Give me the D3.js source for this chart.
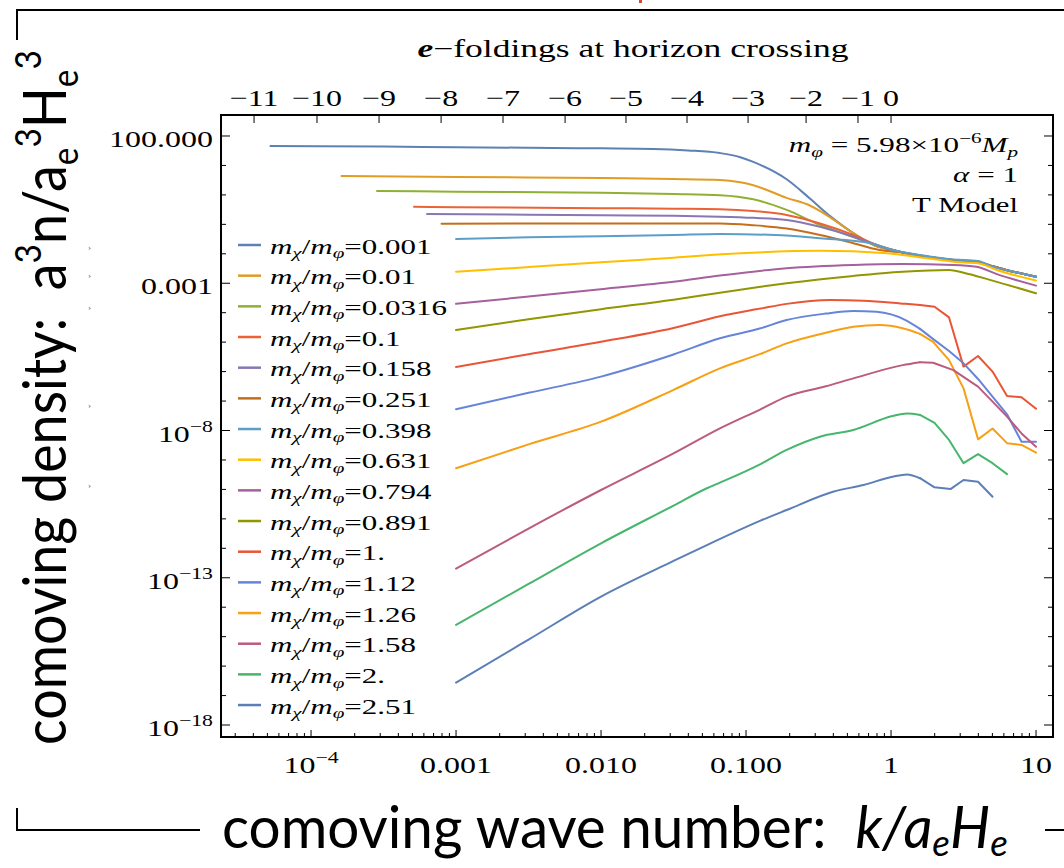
<!DOCTYPE html>
<html><head><meta charset="utf-8">
<script src="https://cdn.jsdelivr.net/npm/d3@7"></script>
<style>body{margin:0;background:#fff}svg{display:block}text{white-space:pre}</style>
</head><body>
<svg id="c" width="1064" height="868"></svg>
<script>
// ---------- DATA (log10 k, log10 n) ----------
const massLabels = ["0.001","0.01","0.0316","0.1","0.158","0.251","0.398","0.631","0.794","0.891","1.","1.12","1.26","1.58","2.","2.51"];

const s_0p001 = [[-4.28,1.66],[-3.5,1.64],[-3,1.62],[-2.5,1.60],[-2,1.58],[-1.64,1.56],[-1.4,1.51],[-1.18,1.42],[-1.04,1.28],[-0.95,1.12],[-0.72,0.53],[-0.56,-0.12],[-0.42,-0.72],[-0.26,-1.30],[-0.12,-1.70],[0.06,-1.93],[0.25,-2.10],[0.43,-2.21],[0.6,-2.28],[0.7,-2.42],[0.8,-2.56],[0.9,-2.67],[1.0,-2.78]];
const s_0p01 = [[-3.79,0.64],[-3,0.61],[-2,0.57],[-1.5,0.54],[-1.18,0.51],[-1.04,0.43],[-0.95,0.33],[-0.72,-0.10],[-0.56,-0.36],[-0.42,-0.76],[-0.26,-1.30],[-0.12,-1.70],[0.06,-1.93],[0.25,-2.10],[0.43,-2.21],[0.6,-2.28],[0.7,-2.42],[0.8,-2.56],[0.9,-2.67],[1.0,-2.78]];
const s_0p0316 = [[-3.545,0.13],[-3,0.11],[-2,0.07],[-1.5,0.03],[-1.18,-0.01],[-0.95,-0.15],[-0.72,-0.51],[-0.49,-1.02],[-0.30,-1.36],[-0.14,-1.64],[0.06,-1.93],[0.25,-2.10],[0.43,-2.21],[0.6,-2.28],[0.7,-2.42],[0.8,-2.56],[0.9,-2.67],[1.0,-2.78]];
const s_0p1 = [[-3.29,-0.40],[-3,-0.42],[-2,-0.45],[-1.5,-0.47],[-1.18,-0.49],[-0.95,-0.55],[-0.72,-0.68],[-0.49,-0.97],[-0.26,-1.36],[-0.10,-1.70],[0.06,-1.93],[0.25,-2.10],[0.43,-2.21],[0.6,-2.28],[0.7,-2.42],[0.8,-2.56],[0.9,-2.67],[1.0,-2.78]];
const s_0p158 = [[-3.2,-0.65],[-2.5,-0.67],[-2,-0.69],[-1.5,-0.71],[-1.18,-0.74],[-0.95,-0.78],[-0.72,-0.85],[-0.49,-1.08],[-0.26,-1.42],[-0.10,-1.70],[0.06,-1.93],[0.25,-2.10],[0.43,-2.21],[0.6,-2.28],[0.7,-2.42],[0.8,-2.56],[0.9,-2.67],[1.0,-2.78]];
const s_0p251 = [[-3.1,-0.98],[-2.5,-0.97],[-2,-0.97],[-1.5,-0.97],[-1.18,-0.97],[-0.95,-1.03],[-0.72,-1.14],[-0.49,-1.36],[-0.26,-1.64],[-0.08,-1.87],[0.06,-1.95],[0.25,-2.10],[0.43,-2.21],[0.6,-2.28],[0.7,-2.42],[0.8,-2.56],[0.9,-2.67],[1.0,-2.78]];
const s_0p398 = [[-3,-1.50],[-2.5,-1.44],[-2,-1.40],[-1.5,-1.36],[-1.18,-1.33],[-0.8,-1.36],[-0.49,-1.47],[-0.14,-1.64],[0.01,-1.87],[0.2,-2.04],[0.43,-2.19],[0.6,-2.24],[0.7,-2.44],[0.8,-2.56],[0.9,-2.67],[1.0,-2.78]];
const s_0p631 = [[-3,-2.61],[-2.5,-2.45],[-2,-2.29],[-1.5,-2.13],[-1.04,-1.98],[-0.49,-1.90],[-0.03,-1.98],[0.25,-2.15],[0.43,-2.27],[0.6,-2.32],[0.73,-2.55],[1.0,-2.91]];
const s_0p794 = [[-3,-3.70],[-2.5,-3.45],[-2,-3.20],[-1.5,-2.95],[-1.18,-2.74],[-0.72,-2.49],[-0.26,-2.38],[0.08,-2.35],[0.43,-2.38],[0.59,-2.44],[0.73,-2.69],[1.0,-3.08]];
const s_0p891 = [[-3,-4.59],[-2.5,-4.22],[-2,-3.88],[-1.5,-3.56],[-1.18,-3.32],[-0.9,-3.12],[-0.72,-3.00],[-0.26,-2.75],[0.08,-2.61],[0.4,-2.55],[0.5,-2.64],[0.7,-2.91],[1.0,-3.34]];
const s_1p0 = [[-3,-5.84],[-2.5,-5.41],[-2,-4.99],[-1.5,-4.52],[-1.18,-4.12],[-0.9,-3.86],[-0.72,-3.70],[-0.42,-3.57],[-0.19,-3.59],[0.1,-3.70],[0.2,-3.74],[0.3,-3.80],[0.4,-4.16],[0.5,-5.83],[0.6,-5.47],[0.7,-6.00],[0.8,-6.83],[0.9,-6.87],[1.0,-7.26]];
const s_1p12 = [[-3,-7.28],[-2.5,-6.72],[-2,-6.17],[-1.5,-5.42],[-1.18,-4.87],[-0.9,-4.53],[-0.72,-4.25],[-0.45,-4.03],[-0.26,-3.94],[-0.1,-3.97],[0.1,-4.25],[0.2,-4.55],[0.3,-4.93],[0.4,-5.30],[0.5,-5.72],[0.6,-6.25],[0.7,-6.85],[0.8,-7.45],[0.9,-8.38],[1.0,-8.38]];
const s_1p26 = [[-3,-9.28],[-2.5,-8.47],[-2,-7.70],[-1.5,-6.62],[-1.18,-5.89],[-0.9,-5.40],[-0.72,-5.04],[-0.45,-4.68],[-0.26,-4.48],[-0.08,-4.42],[0.08,-4.53],[0.2,-4.72],[0.29,-4.99],[0.4,-5.61],[0.5,-6.57],[0.6,-8.30],[0.7,-7.93],[0.8,-8.43],[0.9,-8.49],[1.0,-8.75]];
const s_1p58 = [[-3,-12.69],[-2.5,-11.33],[-2,-10.02],[-1.5,-8.78],[-1.18,-7.93],[-0.9,-7.28],[-0.72,-6.85],[-0.45,-6.50],[-0.26,-6.23],[0.08,-5.78],[0.2,-5.68],[0.29,-5.70],[0.43,-5.95],[0.6,-6.51],[0.8,-7.53],[0.9,-8.10],[1.0,-8.55]];
const s_2p0 = [[-3,-14.60],[-2.5,-13.21],[-2,-11.83],[-1.5,-10.55],[-1.27,-9.96],[-1.18,-9.77],[-0.9,-9.14],[-0.72,-8.66],[-0.49,-8.21],[-0.26,-7.98],[0.01,-7.51],[0.11,-7.42],[0.2,-7.47],[0.3,-7.74],[0.4,-8.32],[0.5,-9.11],[0.6,-8.80],[0.7,-9.11],[0.8,-9.48]];
const s_2p51 = [[-3,-16.56],[-2.5,-15.10],[-2,-13.64],[-1.5,-12.43],[-1.27,-11.89],[-0.9,-11.06],[-0.72,-10.70],[-0.4,-10.08],[-0.19,-9.85],[0.01,-9.57],[0.11,-9.49],[0.2,-9.62],[0.3,-9.93],[0.41,-9.99],[0.5,-9.68],[0.6,-9.74],[0.7,-10.25]];

const seriesData = [s_0p001,s_0p01,s_0p0316,s_0p1,s_0p158,s_0p251,s_0p398,s_0p631,s_0p794,s_0p891,s_1p0,s_1p12,s_1p26,s_1p58,s_2p0,s_2p51];

// top axis: e-foldings at horizon crossing (label, log10 k position)
const efoldLabels = ["−11","−10","−9","−8","−7","−6","−5","−4","−3","−2","−1","0"];
const efoldLogK = [-4.393,-3.959,-3.531,-3.103,-2.676,-2.248,-1.828,-1.407,-0.986,-0.586,-0.228,0.0];

// bottom axis labels
const xLabelExp = [-4,-3,-2,-1,0,1];
const xLabelBase = ["10","0.001","0.010","0.100","1","10"];
const xLabelSup = ["−4","","","","",""];

// left axis labels
const yLabelExp = [2,-3,-8,-13,-18];
const yLabelBase = ["100.000","0.001","10","10","10"];
const yLabelSup = ["","","−8","−13","−18"];

// ---------- STYLE ----------
const palette = ["#5E81B5","#E19C24","#8FB032","#EB6235","#8778B3","#C56E1A","#5D9EC7","#FFBF00","#A5609D","#929600","#E95536","#6685D9","#F89F13","#BC5B80","#47B66D","#5B7FB6"];
const serif = "'Liberation Serif','Times New Roman',serif";
const sans = "Lato,'Open Sans',sans-serif";

const L = 221, R = 1053, T = 115, B = 737;
const svg = d3.select("#c");

const x = d3.scaleLog().domain([Math.pow(10,-4.621), Math.pow(10,1.117)]).range([L, R]);
const y = d3.scaleLog().domain([Math.pow(10,-18.407), Math.pow(10,2.713)]).range([B, T]);

function rich(parent, px, py, anchor, size, family, parts, rot) {
  const outer = parent.append("g").attr("transform", `translate(${px},${py})` + (rot ? ` rotate(${rot})` : ""));
  const inner = outer.append("g");
  const t = inner.append("text").attr("x",0).attr("y",0).attr("text-anchor",anchor)
    .attr("font-family",family).attr("font-size",size).attr("fill","#000");
  let cur = 0;
  parts.forEach(p => {
    const ts = t.append("tspan").text(p.t);
    let target = 0, fs = size;
    if (p.sup) { target = -size*(p.supShift||0.4); fs = size*(p.rel||0.68); }
    if (p.sub) { target = size*(p.subShift||0.22); fs = size*(p.rel||0.68); }
    if (fs !== size) ts.attr("font-size", fs);
    if (target !== cur) { ts.attr("dy", target-cur); cur = target; }
    if (p.it) ts.attr("font-style","italic");
    if (p.b) ts.attr("font-weight","bold");
  });
  return {outer, inner, t};
}
function natW(r){ return r.t.node().getBBox().width; }
function setS(r, s){ r.inner.attr("transform", `scale(${s},1)`); }
function fit(r, w){ const s = w/natW(r); setS(r, s); return s; }

// ---------- outer bracket lines ----------
const br = svg.append("g").attr("stroke","#000").attr("stroke-width",2).attr("fill","none");
br.append("path").attr("d","M17,40 V10 H1064");
br.append("path").attr("d","M17,808 V830 H200");
br.append("path").attr("d","M1045,830 H1064");
svg.append("rect").attr("x",639).attr("y",0).attr("width",3).attr("height",3).attr("fill","#e8412c");

// stray tiny marks at left
[247,275,307,405,485].forEach(v => svg.append("text").attr("x",88).attr("y",v+3).attr("font-size",9)
  .attr("font-family",serif).attr("fill","#555").text("›"));

// ---------- curves ----------
// smooth part drawn with monotone interpolation; the jagged high-k tail of the
// heavy-mass curves (index >= 10) drawn with straight segments, as in the source
const gCurves = svg.append("g");
const SPLIT = 0.2;
function pathFor(d, curve) {
  return d3.line().x(p => x(Math.pow(10,p[0]))).y(p => y(Math.pow(10,p[1]))).curve(curve)(d);
}
seriesData.forEach((d,i) => {
  const g = gCurves.append("g").attr("fill","none").attr("stroke", palette[i])
    .attr("stroke-width", 2).attr("stroke-linejoin","round").attr("stroke-linecap","round");
  if (i < 10) {
    g.append("path").attr("d", pathFor(d, d3.curveMonotoneX));
  } else {
    const a = d.filter(p => p[0] <= SPLIT + 1e-9);
    const b = d.filter(p => p[0] >= SPLIT - 0.1 - 1e-9).filter((p,j,arr) => true);
    const join = a[a.length-1];
    const tail = [join].concat(d.filter(p => p[0] > join[0]));
    g.append("path").attr("d", pathFor(a, d3.curveMonotoneX));
    g.append("path").attr("d", pathFor(tail, d3.curveLinear));
  }
});

// ---------- frame and ticks ----------
const gAx = svg.append("g").attr("stroke","#000");
gAx.append("rect").attr("x",L).attr("y",T).attr("width",R-L).attr("height",B-T)
  .attr("fill","none").attr("stroke-width",2);
for (let e=-5; e<=1; e++) for (let m=1; m<=9; m++) {
  const v = m*Math.pow(10,e);
  if (v < x.domain()[0] || v > x.domain()[1]) continue;
  const len = m===1 ? 7 : 4;
  gAx.append("line").attr("x1",x(v)).attr("x2",x(v)).attr("y1",B).attr("y2",B-len).attr("stroke-width",1);
}
for (let e=-18; e<=2; e++) {
  const v = Math.pow(10,e), yy = y(v);
  const len = ((2-e)%5===0) ? 9 : 5;
  gAx.append("line").attr("x1",L).attr("x2",L+len).attr("y1",yy).attr("y2",yy).attr("stroke-width",1);
  gAx.append("line").attr("x1",R).attr("x2",R-len).attr("y1",yy).attr("y2",yy).attr("stroke-width",1);
}
efoldLogK.forEach(lk => {
  const xx = x(Math.pow(10,lk));
  gAx.append("line").attr("x1",xx).attr("x2",xx).attr("y1",T).attr("y2",T+8).attr("stroke-width",1);
});

// ---------- tick labels ----------
const gLab = svg.append("g");
const TS = 24;
const yLabs = yLabelExp.map((e,i) => {
  const parts = [{t:yLabelBase[i]}];
  if (yLabelSup[i]) parts.push({t:yLabelSup[i], sup:true});
  return rich(gLab, 213, y(Math.pow(10,e))+11, "end", TS, serif, parts);
});
const S = 104 / natW(yLabs[0]);
yLabs.forEach(r => setS(r, S));
xLabelExp.forEach((e,i) => {
  const parts = [{t:xLabelBase[i]}];
  if (xLabelSup[i]) parts.push({t:xLabelSup[i], sup:true});
  setS(rich(gLab, x(Math.pow(10,e)), 773, "middle", TS, serif, parts), S);
});
efoldLabels.forEach((lab,i) => {
  setS(rich(gLab, x(Math.pow(10,efoldLogK[i])), 106, "middle", TS, serif, [{t:lab}]), S);
});

fit(rich(svg, 633, 57, "middle", 25, serif,
  [{t:"e", it:true, b:true},{t:"−foldings at horizon crossing"}]), 432);

// ---------- annotation ----------
fit(rich(svg, 1018, 152, "end", 22, serif,
  [{t:"m", it:true},{t:"φ", it:true, sub:true},{t:" = 5.98×10"},{t:"−6", sup:true},{t:"M", it:true},{t:"p", it:true, sub:true}]), 230);
fit(rich(svg, 1018, 182, "end", 22, serif, [{t:"α", it:true},{t:" = 1"}]), 65);
fit(rich(svg, 1018, 212, "end", 22, serif, [{t:"T Model"}]), 106);

// ---------- legend ----------
const gLeg = svg.append("g");
const legTop = 245, legStep = 30.67;
const legTexts = [];
massLabels.forEach((lab,i) => {
  const yy = legTop + i*legStep;
  gLeg.append("line").attr("x1",238).attr("x2",261).attr("y1",yy).attr("y2",yy)
    .attr("stroke",palette[i]).attr("stroke-width",2.5);
  legTexts.push(rich(gLeg, 270, yy+8.5, "start", 21, serif,
    [{t:"m", it:true},{t:"χ", it:true, sub:true},{t:"/"},{t:"m", it:true},{t:"φ", it:true, sub:true},{t:"="+lab}]));
});
const LS = 177 / natW(legTexts[2]);
legTexts.forEach(r => setS(r, LS));

// ---------- big axis titles ----------
fit(rich(svg, 222, 848, "start", 58, sans,
  [{t:"comoving wave number:  "},{t:"k", it:true},{t:"/a", it:true},{t:"e", it:true, sub:true, subShift:0.13, rel:0.65},{t:"H", it:true},{t:"e", it:true, sub:true, subShift:0.13, rel:0.65}]), 786);
fit(rich(svg, 66, 745, "start", 60, sans,
  [{t:"comoving density:  a"},{t:"3", sup:true, supShift:0.42, rel:0.62},{t:"n/a"},{t:"e", sub:true, subShift:0.2, rel:0.62},{t:"3", sup:true, supShift:0.42, rel:0.62},{t:"H"},{t:"e", sub:true, subShift:0.2, rel:0.62},{t:"3", sup:true, supShift:0.42, rel:0.62}], -90), 695);
</script>
</body></html>
